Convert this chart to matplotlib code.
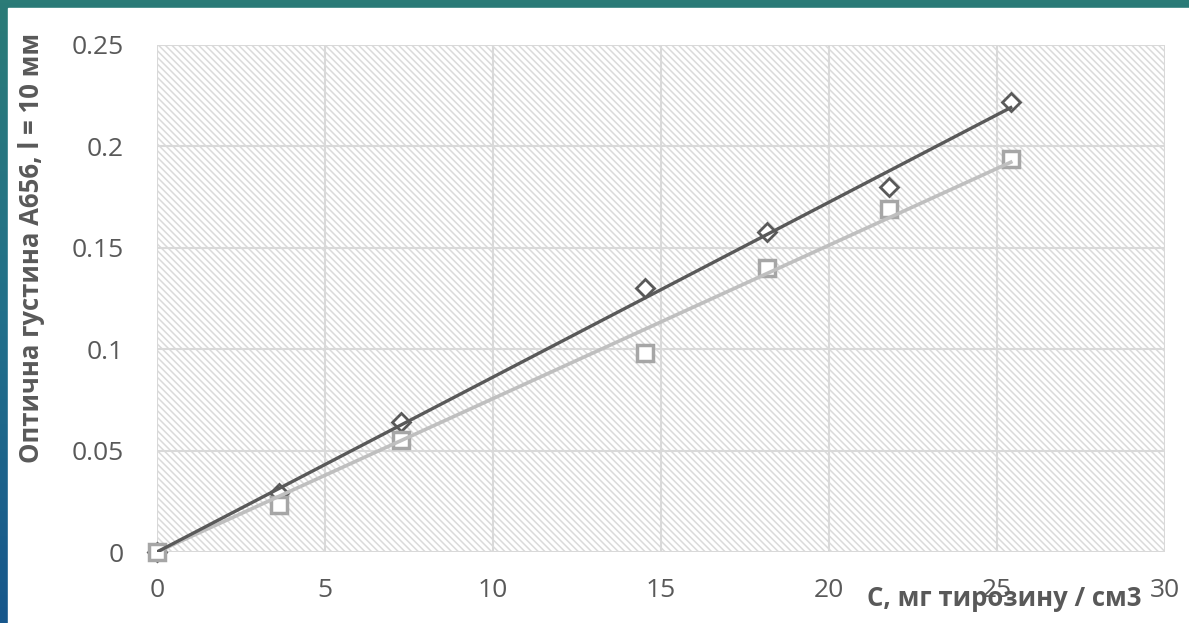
# Оптична густина від концентрації тирозину, дві серії з лінійними трендами
import numpy as np
import matplotlib.pyplot as plt
from matplotlib.colors import LinearSegmentedColormap
from matplotlib.patches import Rectangle

# дані
conc = np.array([0, 3.63, 7.26, 14.52, 18.15, 21.78, 25.41])
a_dark = np.array([0, 0.029, 0.064, 0.130, 0.158, 0.180, 0.222])
a_light = np.array([0, 0.023, 0.055, 0.098, 0.140, 0.169, 0.194])

x_ticks = [0, 5, 10, 15, 20, 25, 30]
y_ticks = [0, 0.05, 0.1, 0.15, 0.2, 0.25]
y_tick_labels = ['0', '0.05', '0.1', '0.15', '0.2', '0.25']

dark = '#595959'
light = '#bfbfbf'
light_edge = '#a6a6a6'

plt.rcParams['font.family'] = ['Open Sans', 'DejaVu Sans']
plt.rcParams['hatch.linewidth'] = 1.1

W, H = 1189, 623
fig = plt.figure(figsize=(W / 100, H / 100), dpi=100)

# фон слайду (градієнт) і біла панель
bg = fig.add_axes([0, 0, 1, 1])
cmap = LinearSegmentedColormap.from_list('bg', ['#2b7b77', '#22708a', '#17578c'])
bg.imshow(np.linspace(0, 1, 200).reshape(-1, 1), cmap=cmap, aspect='auto',
          extent=[0, 1, 0, 1], origin='upper')
bg.add_patch(Rectangle((8 / W, 0), 1, 1 - 8 / H, color='white',
                       transform=bg.transAxes))
bg.set_xlim(0, 1)
bg.set_ylim(0, 1)
bg.axis('off')

ax = fig.add_axes([157 / W, 1 - 552 / H, 1008 / W, 507 / H])
ax.set_facecolor('none')
# штрихування області побудови
ax.add_patch(Rectangle((0, 0), 1, 1, transform=ax.transAxes, facecolor='white',
                       edgecolor='#dadada', linewidth=0, hatch='\\' * 5, zorder=0))

ax.set_xlim(0, 30)
ax.set_ylim(0, 0.25)
ax.set_xticks(x_ticks)
ax.set_yticks(y_ticks)
ax.set_yticklabels(y_tick_labels)
ax.grid(True, color='#d9d9d9', linewidth=1.5, zorder=1)
ax.tick_params(length=0, labelsize=19, labelcolor=dark)
ax.tick_params(axis='x', pad=19)
ax.tick_params(axis='y', pad=24)
for s in ax.spines.values():
    s.set_visible(False)

# точки
ax.plot(conc, a_dark, linestyle='none', marker='D', markersize=9,
        markerfacecolor='white', markeredgecolor=dark, markeredgewidth=2,
        zorder=3, clip_on=False)
ax.plot(conc, a_light, linestyle='none', marker='s', markersize=11.5,
        markerfacecolor='white', markeredgecolor=light_edge, markeredgewidth=2.5,
        zorder=3, clip_on=False)

# лінійні тренди через початок координат
k_dark = np.sum(conc * a_dark) / np.sum(conc ** 2)
k_light = np.sum(conc * a_light) / np.sum(conc ** 2)
xs = np.array([0, conc[-1]])
ax.plot(xs, k_light * xs, color=light, linewidth=2.6, zorder=4)
ax.plot(xs, k_dark * xs, color=dark, linewidth=2.4, zorder=4)

ax.set_xlabel('C, мг тирозину / см3', fontsize=18.5, fontweight='bold', color=dark)
ax.xaxis.set_label_coords(0.841, -0.065)
ax.set_ylabel('Оптична густина A656, l = 10 мм', fontsize=18.5, fontweight='bold',
              color=dark)
ax.yaxis.set_label_coords(-0.111, 0.6)

fig.savefig('out.png', dpi=100)
